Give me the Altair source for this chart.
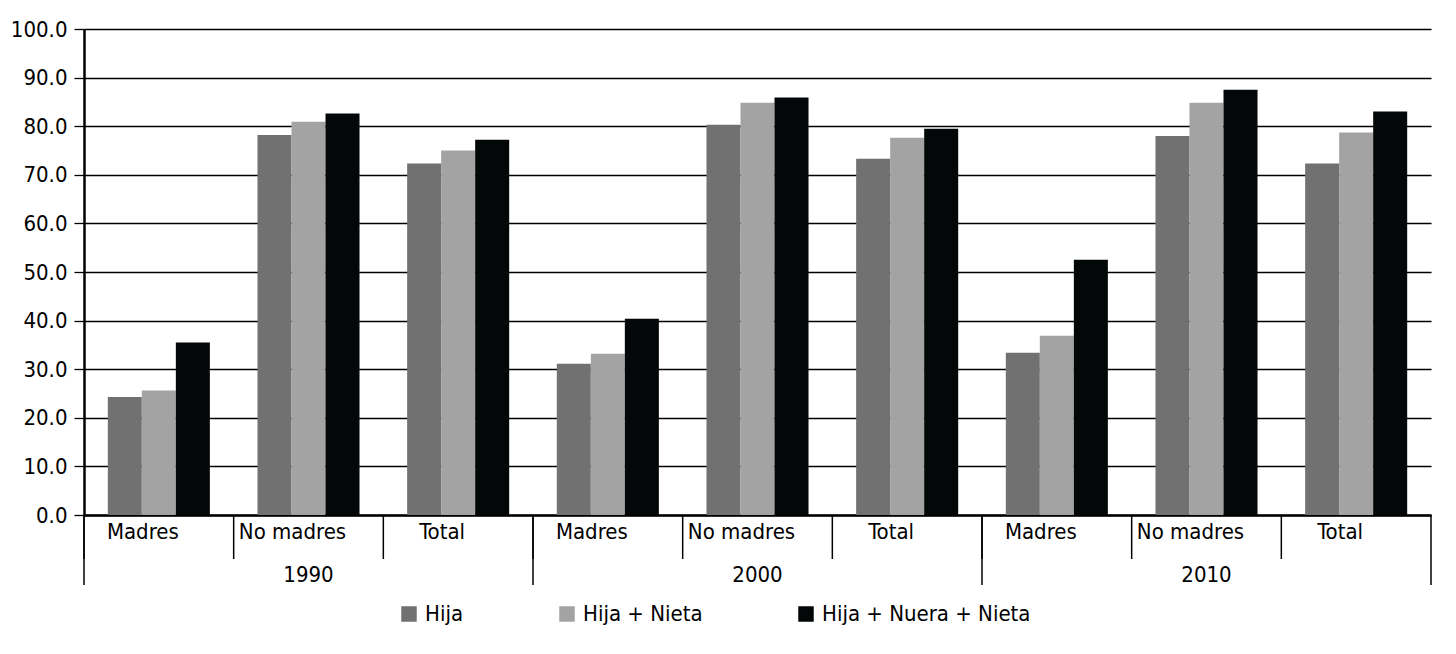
import altair as alt
import pandas as pd

years = ["1990", "2000", "2010"]
categories = ["Madres", "No madres", "Total"]
series = ["Hija", "Hija + Nieta", "Hija + Nuera + Nieta"]
colors = ["#717171", "#a3a3a3", "#030708"]

# values in order: 1990 (Madres, No madres, Total), 2000 (...), 2010 (...)
hija = [24.3, 78.2, 72.3, 31.1, 80.3, 73.3, 33.4, 78.0, 72.3]
hija_nieta = [25.6, 80.9, 75.0, 33.2, 84.8, 77.6, 36.9, 84.8, 78.7]
hija_nuera_nieta = [35.5, 82.6, 77.2, 40.4, 85.9, 79.5, 52.5, 87.5, 83.0]

FONT = "Liberation Sans Narrow, DejaVu Sans Condensed, Arial Narrow, sans-serif"
FS = 22
W, H = 1347, 486

keys = [f"{y}|{c}" for y in years for c in categories]
rows = []
for i, k in enumerate(keys):
    for s, vals in zip(series, [hija, hija_nieta, hija_nuera_nieta]):
        rows.append({"key": k, "serie": s, "valor": vals[i]})
df = pd.DataFrame(rows)

xscale = alt.Scale(domain=keys, paddingInner=0, paddingOuter=0)

bars = alt.Chart(df).mark_bar().encode(
    x=alt.X("key:N", scale=xscale, title=None,
            axis=alt.Axis(labelExpr="split(datum.label, '|')[1]", labelAngle=0,
                          ticks=False, domainColor="black", domainWidth=2.5,
                          labelFont=FONT, labelFontSize=FS, labelColor="black",
                          labelPadding=6, labelOffset=-16, grid=False)),
    xOffset=alt.XOffset("serie:N", sort=series,
                        scale=alt.Scale(paddingInner=0, paddingOuter=0.7)),
    y=alt.Y("valor:Q", scale=alt.Scale(domain=[0, 100], nice=False), title=None,
            axis=alt.Axis(values=list(range(0, 101, 10)), format=".1f",
                          grid=True, gridColor="black", gridWidth=1.3, gridOpacity=1,
                          domainColor="black", domainWidth=2.5,
                          tickColor="black", tickSize=10, tickWidth=1.3,
                          labelFont=FONT, labelFontSize=FS, labelColor="black",
                          labelPadding=7)),
    color=alt.Color("serie:N", sort=series,
                    scale=alt.Scale(domain=series, range=colors),
                    legend=alt.Legend(title=None, orient="none", direction="horizontal",
                                      legendX=314, legendY=574,
                                      symbolType="square", symbolSize=240,
                                      symbolStrokeWidth=0, labelLimit=400,
                                      labelFont=FONT, labelFontSize=FS, labelColor="black",
                                      labelOffset=5, columnPadding=92)),
)

sep_df = pd.DataFrame({"key": keys})
cat_sep = alt.Chart(sep_df).mark_rule(color="black", strokeWidth=1.5).encode(
    x=alt.X("key:N", scale=xscale, bandPosition=0),
    y=alt.value(H), y2=alt.value(H + 44),
)
year_df = pd.DataFrame({"key": [f"{y}|{categories[0]}" for y in years]})
year_sep = alt.Chart(year_df).mark_rule(color="black", strokeWidth=1.5).encode(
    x=alt.X("key:N", scale=xscale, bandPosition=0),
    y=alt.value(H), y2=alt.value(H + 70),
)
end_df = pd.DataFrame({"key": [keys[-1]]})
end_sep = alt.Chart(end_df).mark_rule(color="black", strokeWidth=1.5).encode(
    x=alt.X("key:N", scale=xscale, bandPosition=1),
    y=alt.value(H), y2=alt.value(H + 70),
)
ylab_df = pd.DataFrame({"key": [f"{y}|{categories[1]}" for y in years], "year": years})
year_text = alt.Chart(ylab_df).mark_text(font=FONT, fontSize=FS, color="black",
                                         baseline="middle").encode(
    x=alt.X("key:N", scale=xscale),
    y=alt.value(H + 60),
    text="year:N",
)

chart = alt.layer(bars, cat_sep, year_sep, end_sep, year_text).properties(
    width=W, height=H,
    padding={"left": 2, "top": 10, "right": 5, "bottom": 5},
).configure_view(stroke=None)

chart.save("out.html", embed_options={"renderer": "svg", "actions": False})
